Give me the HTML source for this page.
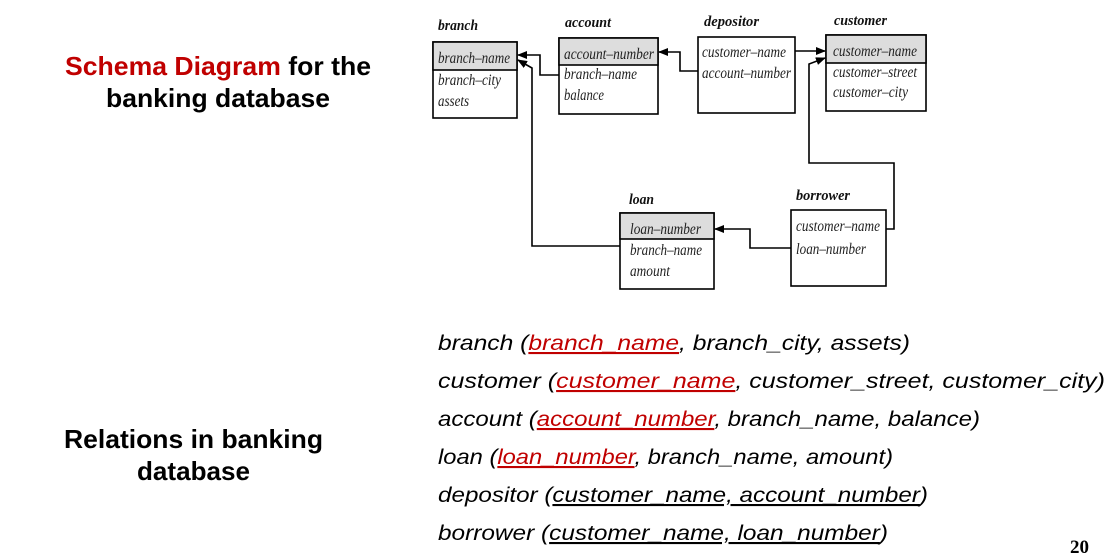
<!DOCTYPE html>
<html><head><meta charset="utf-8"><style>
html,body{margin:0;padding:0;background:#fff;}
svg{display:block}
.t{font-family:"Liberation Serif",serif;font-style:italic;font-size:16px;fill:#222}
.h{font-family:"Liberation Serif",serif;font-style:italic;font-weight:bold;font-size:15px;fill:#111}
.r{font-family:"Liberation Sans",sans-serif;font-style:italic;font-size:21px;fill:#000}
.b{font-family:"Liberation Sans",sans-serif;font-weight:bold;font-size:26px;fill:#000}
</style></head><body>
<svg width="1107" height="557" viewBox="0 0 1107 557" xmlns="http://www.w3.org/2000/svg">
<defs><marker id="a" markerWidth="10" markerHeight="8" refX="9" refY="4" orient="auto" markerUnits="userSpaceOnUse"><path d="M0,0 L10,4 L0,8 Z" fill="#000"/></marker></defs>
<text class="b" x="65" y="75" textLength="306" lengthAdjust="spacingAndGlyphs"><tspan fill="#c00000">Schema Diagram</tspan> for the</text>
<text class="b" x="106" y="107" textLength="224" lengthAdjust="spacingAndGlyphs">banking database</text>
<text class="b" x="64" y="448" textLength="259" lengthAdjust="spacingAndGlyphs">Relations in banking</text>
<text class="b" x="137" y="480" textLength="113" lengthAdjust="spacingAndGlyphs">database</text>

<g stroke="#000" stroke-width="1.6" fill="none">
<rect x="433" y="42" width="84" height="76" fill="#fff"/><rect x="433" y="42" width="84" height="28" fill="#ddd"/>
<rect x="559" y="38" width="99" height="76" fill="#fff"/><rect x="559" y="38" width="99" height="27" fill="#ddd"/>
<rect x="698" y="37" width="97" height="76" fill="#fff"/>
<rect x="826" y="35" width="100" height="76" fill="#fff"/><rect x="826" y="35" width="100" height="28" fill="#ddd"/>
<rect x="620" y="213" width="94" height="76" fill="#fff"/><rect x="620" y="213" width="94" height="26" fill="#ddd"/>
<rect x="791" y="210" width="95" height="76" fill="#fff"/>
<polyline points="559,75 540,75 540,55 518,55" marker-end="url(#a)"/>
<polyline points="620,246 532,246 532,68 518,60" marker-end="url(#a)"/>
<polyline points="698,71 680,71 680,52 659,52" marker-end="url(#a)"/>
<polyline points="795,51 825,51" marker-end="url(#a)"/>
<polyline points="886,229 894,229 894,163 809,163 809,64 825,58" marker-end="url(#a)"/>
<polyline points="791,248 750,248 750,229 715,229" marker-end="url(#a)"/>
</g>
<text class="h" x="438" y="30" textLength="40" lengthAdjust="spacingAndGlyphs">branch</text>
<text class="h" x="565" y="27" textLength="46" lengthAdjust="spacingAndGlyphs">account</text>
<text class="h" x="704" y="26" textLength="55" lengthAdjust="spacingAndGlyphs">depositor</text>
<text class="h" x="834" y="25" textLength="53" lengthAdjust="spacingAndGlyphs">customer</text>
<text class="h" x="629" y="204" textLength="25" lengthAdjust="spacingAndGlyphs">loan</text>
<text class="h" x="796" y="200" textLength="54" lengthAdjust="spacingAndGlyphs">borrower</text>
<g class="t">
<text class="t" x="438" y="63" textLength="72" lengthAdjust="spacingAndGlyphs">branch–name</text>
<text class="t" x="438" y="85" textLength="63" lengthAdjust="spacingAndGlyphs">branch–city</text>
<text class="t" x="438" y="106" textLength="31" lengthAdjust="spacingAndGlyphs">assets</text>
<text class="t" x="564" y="59" textLength="90" lengthAdjust="spacingAndGlyphs">account–number</text>
<text class="t" x="564" y="79" textLength="73" lengthAdjust="spacingAndGlyphs">branch–name</text>
<text class="t" x="564" y="100" textLength="40" lengthAdjust="spacingAndGlyphs">balance</text>
<text class="t" x="702" y="57" textLength="84" lengthAdjust="spacingAndGlyphs">customer–name</text>
<text class="t" x="702" y="78" textLength="89" lengthAdjust="spacingAndGlyphs">account–number</text>
<text class="t" x="833" y="56" textLength="84" lengthAdjust="spacingAndGlyphs">customer–name</text>
<text class="t" x="833" y="77" textLength="84" lengthAdjust="spacingAndGlyphs">customer–street</text>
<text class="t" x="833" y="97" textLength="75" lengthAdjust="spacingAndGlyphs">customer–city</text>
<text class="t" x="630" y="234" textLength="71" lengthAdjust="spacingAndGlyphs">loan–number</text>
<text class="t" x="630" y="255" textLength="72" lengthAdjust="spacingAndGlyphs">branch–name</text>
<text class="t" x="630" y="276" textLength="40" lengthAdjust="spacingAndGlyphs">amount</text>
<text class="t" x="796" y="231" textLength="84" lengthAdjust="spacingAndGlyphs">customer–name</text>
<text class="t" x="796" y="254" textLength="70" lengthAdjust="spacingAndGlyphs">loan–number</text>
</g>

<text class="r" x="438" y="350" textLength="472" lengthAdjust="spacingAndGlyphs">branch (<tspan fill="#c00000" text-decoration="underline">branch_name</tspan>, branch_city, assets)</text>
<text class="r" x="438" y="388" textLength="667" lengthAdjust="spacingAndGlyphs">customer (<tspan fill="#c00000" text-decoration="underline">customer_name</tspan>, customer_street, customer_city)</text>
<text class="r" x="438" y="426" textLength="542" lengthAdjust="spacingAndGlyphs">account (<tspan fill="#c00000" text-decoration="underline">account_number</tspan>, branch_name, balance)</text>
<text class="r" x="438" y="464" textLength="455" lengthAdjust="spacingAndGlyphs">loan (<tspan fill="#c00000" text-decoration="underline">loan_number</tspan>, branch_name, amount)</text>
<text class="r" x="438" y="502" textLength="490" lengthAdjust="spacingAndGlyphs">depositor (<tspan text-decoration="underline">customer_name, account_number</tspan>)</text>
<text class="r" x="438" y="540" textLength="450" lengthAdjust="spacingAndGlyphs">borrower (<tspan text-decoration="underline">customer_name, loan_number</tspan>)</text>
<text x="1070" y="553" font-family="Liberation Serif,serif" font-weight="bold" font-size="19">20</text>
</svg>
</body></html>
